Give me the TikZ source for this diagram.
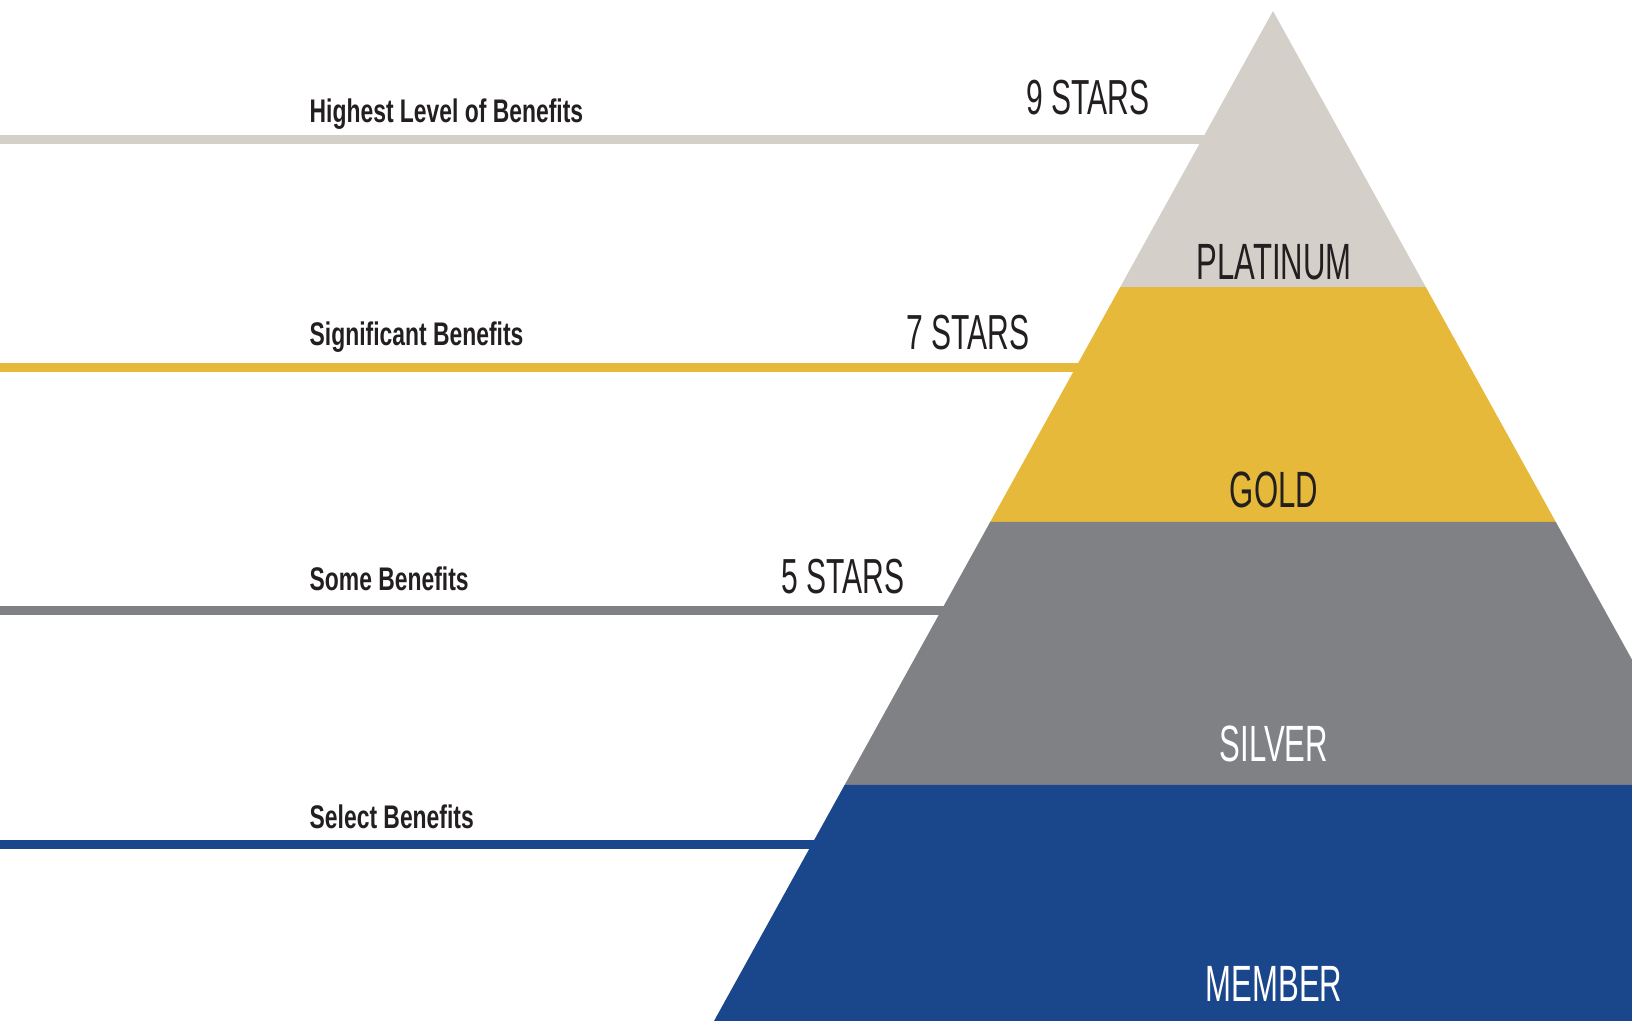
\documentclass[tikz,border=0pt]{standalone}
\usepackage{fontspec}
\setmainfont{Liberation Sans}
\newfontfamily\tierfont[FakeStretch=0.61]{Liberation Sans}
\newfontfamily\benefitfont[FakeStretch=0.70]{Liberation Sans}
\usepackage{tikz}
\usetikzlibrary{calc,positioning}
\definecolor{platinum}{RGB}{212,207,200}
\definecolor{gold}{RGB}{230,185,58}
\definecolor{silver}{RGB}{128,129,132}
\definecolor{member}{RGB}{26,71,140}
\definecolor{ink}{RGB}{35,31,32}

\begin{document}
\begin{tikzpicture}[x=0.01cm,y=-0.01cm,
  band/.style={line width=0.09cm},
  stars/.style={font=\tierfont\fontsize{14}{16}\selectfont,text=ink,anchor=base east,inner sep=0},
  tier/.style={font=\tierfont\fontsize{14.5}{17}\selectfont,anchor=base,inner sep=0},
  benefit/.style={font=\benefitfont\bfseries\fontsize{9.3}{11}\selectfont,text=ink,anchor=base west,inner sep=0}]
\useasboundingbox (0,0) rectangle (1632,1021);
\coordinate (origin) at (0,0);
\coordinate (apex) at (1273,11);
\coordinate (baseL) at (714,1021);
\coordinate (baseR) at (1832,1021);
\foreach \name/\t in {plat/0.2733,gold/0.5059,silv/0.7663} {
  \coordinate (\name L) at ($(apex)!\t!(baseL)$);
  \coordinate (\name R) at ($(apex)!\t!(baseR)$);
}
% benefit lines
\foreach \name/\t/\col in {pl/0.1272/platinum,gl/0.3525/gold,sl/0.5931/silver,ml/0.8257/member} {
  \coordinate (\name) at ($(apex)!\t!(baseL)$);
  \draw[band,draw=\col] (\name -| origin) -- ($(\name)+(12,0)$);
}
% pyramid
\begin{scope}
\clip (0,0) rectangle (1632,1021);
\fill[platinum] (apex) -- (platR) -- (platL) -- cycle;
\fill[gold] (platL) -- (platR) -- (goldR) -- (goldL) -- cycle;
\fill[silver] (goldL) -- (goldR) -- (silvR) -- (silvL) -- cycle;
\fill[member] (silvL) -- (silvR) -- (baseR) -- (baseL) -- cycle;
\end{scope}
\node[benefit] (highest) at (309,122) {Highest Level of Benefits};
\node[benefit] (significant) at (309,345) {Significant Benefits};
\node[benefit] (some) at (309,590) {Some Benefits};
\node[benefit] (select) at (309,828) {Select Benefits};
\node[stars] (nine) at (1150,114) {9 STARS};
\node[stars] (seven) at (1030,349) {7 STARS};
\node[stars] (five) at (905,593) {5 STARS};
\node[tier,text=ink] (platinum) at (1274,279) {PLATINUM};
\node[tier,text=ink] (goldtier) at (1274,507) {GOLD};
\node[tier,text=white] (silvertier) at (1274,761) {SILVER};
\node[tier,text=white] (membertier) at (1274,1001) {MEMBER};
\end{tikzpicture}
\end{document}
